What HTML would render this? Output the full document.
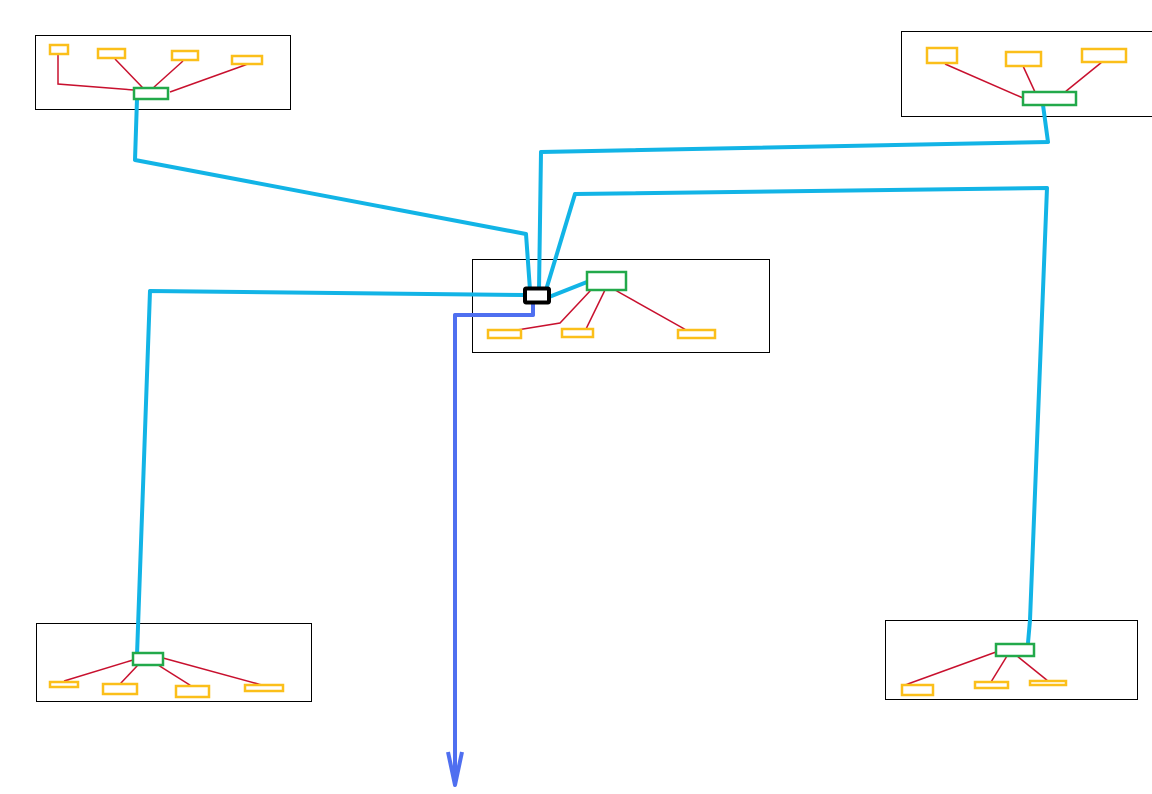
<!DOCTYPE html>
<html><head><style>html,body{margin:0;padding:0;background:#fff}svg{display:block}</style></head><body>
<svg width="1152" height="794" viewBox="0 0 1152 794" xmlns="http://www.w3.org/2000/svg">
<g fill="none" stroke="#000" stroke-width="1">
<rect x="35.5" y="35.5" width="255" height="74"/>
<rect x="901.5" y="31.5" width="252" height="85"/>
<rect x="472.5" y="259.5" width="297" height="93"/>
<rect x="36.5" y="623.5" width="275" height="78"/>
<rect x="885.5" y="620.5" width="252" height="79"/>
</g>
<g fill="none" stroke="#c8102e" stroke-width="1.5">
<polyline points="58,54 58,84 134,90"/><line x1="115" y1="59" x2="143" y2="88"/><line x1="183" y1="61" x2="153" y2="88"/><line x1="248" y1="64" x2="170" y2="92"/>
<line x1="945" y1="64" x2="1023" y2="98"/><line x1="1023" y1="66" x2="1035" y2="92"/><line x1="1102" y1="62" x2="1065" y2="92"/>
<polyline points="517,330 560,323 591,290"/><line x1="586" y1="329" x2="605" y2="290"/><line x1="615" y1="290" x2="688" y2="331"/>
<line x1="64" y1="681" x2="133" y2="660"/><line x1="120" y1="684" x2="138" y2="665"/><line x1="193" y1="687" x2="158" y2="665"/><line x1="262" y1="685" x2="163" y2="658"/>
<line x1="905" y1="685" x2="996" y2="652"/><line x1="991" y1="682" x2="1007" y2="656"/><line x1="1048" y1="681" x2="1017" y2="656"/>
</g>
<g fill="none" stroke="#12b4e6" stroke-width="4" stroke-linejoin="round">
<polyline points="137,99 135,160 526,234 530,290"/>
<polyline points="1043,105 1048,142 541,152 539,290"/>
<polyline points="546,290 575,194 1047,188 1030,620 1028,643"/>
<polyline points="524,295 150,291 137,655"/>
<line x1="549" y1="297" x2="587" y2="282"/>
</g>
<g fill="none" stroke="#4f6ff0" stroke-width="4" stroke-linejoin="round">
<polyline points="533,303 533,315 455,315 455,785"/>
<polyline points="448,752 455,785 462,752"/>
</g>
<g fill="#fff" stroke="#fbbf1a" stroke-width="2.5">
<rect x="50" y="45" width="18" height="9"/><rect x="98" y="49" width="27" height="9"/><rect x="172" y="51" width="26" height="9"/><rect x="232" y="56" width="30" height="8"/>
<rect x="927" y="48" width="30" height="15"/><rect x="1006" y="52" width="35" height="14"/><rect x="1082" y="49" width="44" height="13"/>
<rect x="488" y="330" width="33" height="8"/><rect x="562" y="329" width="31" height="8"/><rect x="678" y="330" width="37" height="8"/>
<rect x="50" y="682" width="28" height="5"/><rect x="103" y="684" width="34" height="10"/><rect x="176" y="686" width="33" height="11"/><rect x="245" y="685" width="38" height="6"/>
<rect x="902" y="685" width="31" height="10"/><rect x="975" y="682" width="33" height="6"/><rect x="1030" y="681" width="36" height="4"/>
</g>
<g fill="#fff" stroke="#22a94a" stroke-width="2.5">
<rect x="134" y="88" width="34" height="11"/><rect x="1023" y="92" width="53" height="13"/><rect x="587" y="272" width="39" height="18"/><rect x="133" y="653" width="30" height="12"/><rect x="996" y="644" width="38" height="12"/>
</g>
<rect x="525" y="288.5" width="24" height="14" fill="#fff" stroke="#000" stroke-width="4" rx="1"/>
</svg>
</body></html>
